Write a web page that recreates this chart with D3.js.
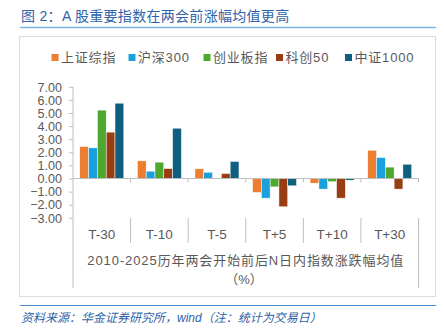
<!DOCTYPE html>
<html>
<head>
<meta charset="utf-8">
<script src="https://cdn.jsdelivr.net/npm/d3@7"></script>
<style>
  body { margin: 0; background: #fff; }
  svg { font-family: "Liberation Sans", "Noto Sans CJK SC", sans-serif; }
</style>
</head>
<body>
<div id="canvas"></div>
<script>
const categories = ["T-30", "T-10", "T-5", "T+5", "T+10", "T+30"];
const seriesNames = ["上证综指", "沪深300", "创业板指", "科创50", "中证1000"];
const shIndex = [2.44, 1.35, 0.74, -1.07, -0.36, 2.16];
const hs300 = [2.34, 0.56, 0.48, -1.5, -0.81, 1.6];
const cyb = [5.22, 1.25, 0.0, -0.64, -0.25, 0.87];
const kc50 = [3.54, 0.76, 0.38, -2.16, -1.5, -0.81];
const zz1000 = [5.75, 3.84, 1.3, -0.56, -0.13, 1.09];
const yTicks = [7, 6, 5, 4, 3, 2, 1, 0, -1, -2, -3];
const colors = ["#ed7d31", "#1aa1dd", "#4ea72e", "#993d12", "#0f5f80"];

const allSeries = [shIndex, hs300, cyb, kc50, zz1000];

const width = 444;
const height = 330;

const svg = d3.select("#canvas").append("svg")
  .attr("width", width)
  .attr("height", height);

// title
svg.append("text")
  .attr("x", 21).attr("y", 21)
  .attr("fill", "#2f62a8")
  .style("font-size", "14px")
  .style("letter-spacing", "0.3px")
  .text("图 2：A 股重要指数在两会前涨幅均值更高");

svg.append("line")
  .attr("x1", 20).attr("x2", 436).attr("y1", 27.5).attr("y2", 27.5)
  .attr("stroke", "#7eb2e0").attr("stroke-width", 1.5);

// chart frame
svg.append("rect")
  .attr("x", 19.5).attr("y", 36.5).attr("width", 416).attr("height", 260)
  .attr("fill", "none").attr("stroke", "#dcdcdc");

// legend
const legendX = [51.5, 128.5, 203.5, 276, 345];
const legend = svg.append("g");
seriesNames.forEach((name, i) => {
  legend.append("rect")
    .attr("x", legendX[i]).attr("y", 54).attr("width", 7).attr("height", 7)
    .attr("fill", colors[i]);
  legend.append("text")
    .attr("x", legendX[i] + 9.5).attr("y", 62)
    .attr("fill", "#595959")
    .style("font-size", "13px")
    .style("letter-spacing", "0.8px")
    .text(name);
});

// scales
const x0 = d3.scaleBand().domain(categories).range([73, 418.5]).paddingInner(0).paddingOuter(0);
const x1 = d3.scaleBand().domain(d3.range(seriesNames.length)).range([0, x0.bandwidth()]).paddingInner(0).paddingOuter(0.77);
const y = d3.scaleLinear().domain([-3, 7]).range([217.8, 86.8]);

const axisColor = "#bfbfbf";

// y axis
const yAxis = svg.append("g")
  .attr("transform", `translate(73,0)`)
  .call(d3.axisLeft(y).tickValues(yTicks).tickFormat(d3.format(".2f")).tickSize(4).tickPadding(7));
yAxis.select(".domain").remove();
yAxis.selectAll(".tick line").attr("stroke", axisColor);
yAxis.selectAll(".tick text")
  .attr("fill", "#595959")
  .attr("dy", "0.34em")
  .style("font-size", "12.6px")
  .style("font-family", "'Liberation Sans', sans-serif");

svg.append("line")
  .attr("x1", 73).attr("x2", 73).attr("y1", y(7)).attr("y2", 288)
  .attr("stroke", axisColor);

// bars
const groups = svg.append("g").selectAll("g")
  .data(categories)
  .join("g")
  .attr("transform", d => `translate(${x0(d)},0)`);

groups.selectAll("rect")
  .data((d, ci) => allSeries.map((s, si) => ({ si, v: s[ci] })))
  .join("rect")
  .attr("x", d => x1(d.si))
  .attr("width", x1.bandwidth())
  .attr("y", d => y(Math.max(0, d.v)))
  .attr("height", d => Math.abs(y(d.v) - y(0)))
  .attr("fill", d => colors[d.si])
  .attr("stroke", "#fff")
  .attr("stroke-width", 0.5);

// zero line with boundary ticks
svg.append("line")
  .attr("x1", 73).attr("x2", 418.5).attr("y1", y(0)).attr("y2", y(0))
  .attr("stroke", axisColor);

const bounds = categories.map(c => x0(c) + x0.bandwidth());
svg.append("g").selectAll("line")
  .data(bounds)
  .join("line")
  .attr("x1", d => d).attr("x2", d => d)
  .attr("y1", y(0)).attr("y2", y(0) + 4)
  .attr("stroke", axisColor);

// category separators below the plot
svg.append("g").selectAll("line")
  .data(bounds.slice(0, -1))
  .join("line")
  .attr("x1", d => d).attr("x2", d => d)
  .attr("y1", 218).attr("y2", 243)
  .attr("stroke", axisColor);

svg.append("line")
  .attr("x1", 418.5).attr("x2", 418.5).attr("y1", 218).attr("y2", 288)
  .attr("stroke", axisColor);

// category labels
svg.append("g").selectAll("text")
  .data(categories)
  .join("text")
  .attr("x", d => x0(d) + x0.bandwidth() / 2)
  .attr("y", 239)
  .attr("text-anchor", "middle")
  .attr("fill", "#595959")
  .style("font-size", "13.5px")
  .text(d => d);

// axis title
svg.append("text")
  .attr("x", 245.8).attr("y", 265)
  .attr("text-anchor", "middle")
  .attr("fill", "#595959")
  .style("font-size", "13px")
  .style("letter-spacing", "0.9px")
  .text("2010-2025历年两会开始前后N日内指数涨跌幅均值");

svg.append("text")
  .attr("x", 244).attr("y", 283.5)
  .attr("text-anchor", "middle")
  .attr("fill", "#595959")
  .style("font-size", "13px")
  .text("（%）");

// footer
svg.append("line")
  .attr("x1", 20).attr("x2", 436).attr("y1", 305.5).attr("y2", 305.5)
  .attr("stroke", "#4a8fd0").attr("stroke-width", 1.2);

svg.append("text")
  .attr("x", 21).attr("y", 322)
  .attr("fill", "#2f62a8")
  .style("font-size", "12px")
  .style("font-style", "italic")
  .text("资料来源：华金证券研究所，wind（注：统计为交易日）");
</script>
</body>
</html>
